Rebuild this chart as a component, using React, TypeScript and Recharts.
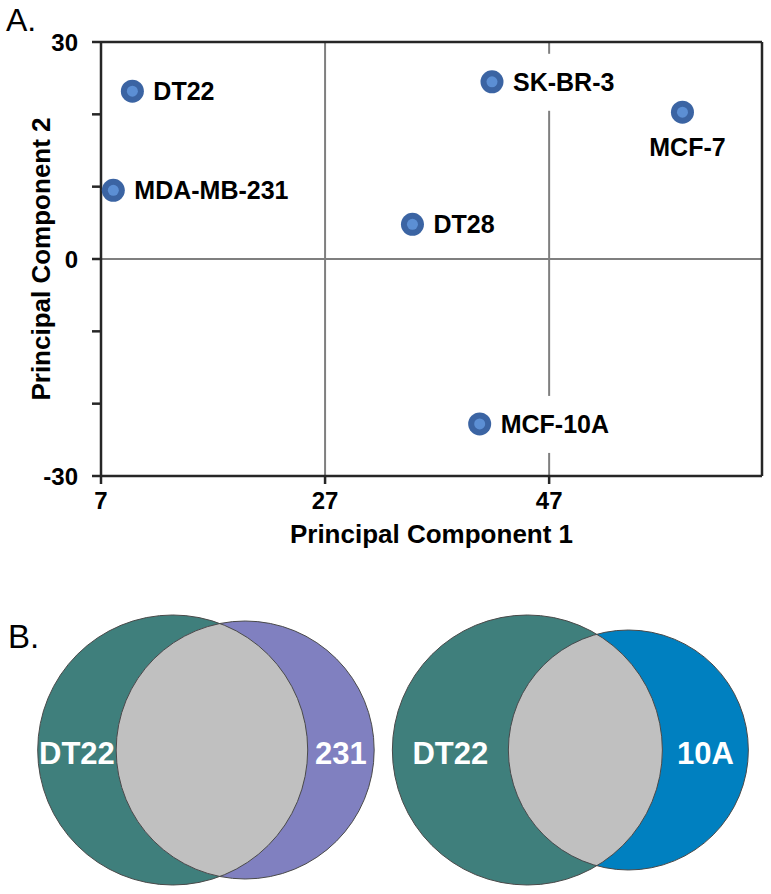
import { ScatterChart, Scatter, XAxis, YAxis, ZAxis, ReferenceLine } from 'recharts';

const FONT = '"Liberation Sans", Arial, Helvetica, sans-serif';

// panel A - principal component scores
const cellLines = ['DT22', 'MDA-MB-231', 'SK-BR-3', 'MCF-7', 'DT28', 'MCF-10A'];
const pc1 = [9.8, 8.1, 41.9, 58.9, 34.8, 40.8];
const pc2 = [23.2, 9.5, 24.5, 20.3, 4.8, -22.8];
const labelSide = ['right', 'right', 'right', 'below', 'right', 'right'];
const pc1Ticks = [7, 27, 47];
const pc2Ticks = [-30, -20, -10, 0, 10, 20, 30];

// panel B - venn diagrams (size = relative set size)
const vennIds = ['v1', 'v1', 'v2', 'v2'];
const vennSets = ['DT22', '231', 'DT22', '10A'];
const vennX = [22.4, 31.8, 68.4, 81.5];
const vennSize = [100, 91.3, 100, 79];
const vennColors = ['#3f7f7c', '#8080c0', '#3f7f7c', '#0080c0'];

const pcaData = cellLines.map((name, i) => ({ name, x: pc1[i], y: pc2[i], side: labelSide[i] }));

const vennData = vennSets.map((name, i) => {
  const first = i % 2 === 0;
  return {
    key: `${vennIds[i]}-${i}`,
    partner: `${vennIds[i]}-${first ? i + 1 : i - 1}`,
    side: first ? 'left' : 'right',
    name,
    x: vennX[i],
    y: 48,
    z: vennSize[i],
    color: vennColors[i],
  };
});

const vennGeom: Record<string, { cx: number; cy: number; r: number }> = {};

function CellPoint(props: any) {
  const { cx, cy, payload } = props;
  const fs = 25;
  const w = payload.name.length * fs * 0.64;
  let tx = cx + 21;
  let ty = cy;
  let anchor = 'start';
  if (payload.side === 'below') {
    tx = cx + 5;
    ty = cy + 35;
    anchor = 'middle';
  }
  const rx = anchor === 'middle' ? tx - w / 2 - 5 : tx - 5;
  return (
    <g>
      <rect x={rx} y={ty - 28} width={w + 10} height={57} fill="#fff" />
      <circle cx={cx} cy={cy} r={11.5} fill="#3b64a3" />
      <circle cx={cx} cy={cy} r={5.5} fill="#5c8fd4" />
      <text
        x={tx}
        y={ty}
        textAnchor={anchor}
        dominantBaseline="central"
        fontSize={fs}
        fontWeight="bold"
        fontFamily={FONT}
        fill="#000"
      >
        {payload.name}
      </text>
    </g>
  );
}

function VennFill(props: any) {
  const { cx, cy, width, payload } = props;
  const r = width / 2;
  vennGeom[payload.key] = { cx, cy, r };
  return (
    <g>
      <defs>
        <clipPath id={`clip-${payload.key}`}>
          <circle cx={cx} cy={cy} r={r} />
        </clipPath>
      </defs>
      <circle cx={cx} cy={cy} r={r} fill={payload.color} />
    </g>
  );
}

function VennOverlap(props: any) {
  const { cx, cy, width, payload } = props;
  return <circle cx={cx} cy={cy} r={width / 2} fill="#c0c0c0" clipPath={`url(#clip-${payload.partner})`} />;
}

function VennOutline(props: any) {
  const { cx, cy, width, payload } = props;
  const r = width / 2;
  const other = vennGeom[payload.partner];
  let lx = payload.side === 'left' ? cx - r * 0.7 : cx + r * 0.7;
  if (other) {
    lx = payload.side === 'left' ? (cx - r + other.cx - other.r) / 2 : (cx + r + other.cx + other.r) / 2;
  }
  return (
    <g>
      <circle cx={cx} cy={cy} r={r} fill="none" stroke="#4a4a4a" strokeWidth={1} />
      <text
        x={lx}
        y={cy + 3}
        textAnchor="middle"
        dominantBaseline="central"
        fontSize={31}
        fontWeight="bold"
        fontFamily={FONT}
        fill="#fff"
      >
        {payload.name}
      </text>
    </g>
  );
}

function YTitle(props: any) {
  const vb = props.viewBox || { x: 0, y: 42, width: 101, height: 434 };
  const x = vb.x + 41;
  const y = vb.y + vb.height / 2;
  return (
    <text
      x={x}
      y={y}
      transform={`rotate(-90 ${x} ${y})`}
      textAnchor="middle"
      dominantBaseline="central"
      fontSize={26}
      fontWeight="bold"
      fontFamily={FONT}
      fill="#000"
    >
      Principal Component 2
    </text>
  );
}

const tickStyle = { fill: '#000', fontSize: 24, fontWeight: 'bold', fontFamily: FONT };
const axisStroke = { stroke: '#262626', strokeWidth: 2.5 };

export default function App() {
  const onlyEnds = (v: number) => (v % 30 === 0 ? String(v) : '');
  const vennRight = vennData.filter((d) => d.side === 'right');

  return (
    <div style={{ position: 'absolute', left: 0, top: 0, width: 771, height: 894, overflow: 'hidden', background: '#fff' }}>
      <div style={{ position: 'absolute', left: 6, top: 0, fontFamily: FONT, fontSize: 32, lineHeight: '40px' }}>A.</div>
      <div style={{ position: 'absolute', left: 8, top: 617, fontFamily: FONT, fontSize: 33, lineHeight: '40px' }}>B.</div>

      <div style={{ position: 'absolute', left: 0, top: 0 }}>
        <ScatterChart width={771} height={560} margin={{ top: 42, right: 9, bottom: 0, left: 0 }}>
          <XAxis
            type="number"
            dataKey="x"
            domain={[7, 66]}
            ticks={pc1Ticks}
            height={84}
            tickSize={8}
            tickMargin={8}
            tick={tickStyle}
            axisLine={axisStroke}
            tickLine={axisStroke}
            label={{
              value: 'Principal Component 1',
              position: 'insideBottom',
              offset: 17,
              fontSize: 26,
              fontWeight: 'bold',
              fontFamily: FONT,
              fill: '#000',
            }}
          />
          <YAxis
            type="number"
            dataKey="y"
            domain={[-30, 30]}
            ticks={pc2Ticks}
            tickFormatter={onlyEnds}
            width={101}
            tickSize={9}
            tickMargin={14}
            tick={tickStyle}
            axisLine={axisStroke}
            tickLine={axisStroke}
            label={{ content: (p: any) => <YTitle {...p} /> }}
          />
          <ReferenceLine x={27} stroke="#7f7f7f" strokeWidth={2} />
          <ReferenceLine x={47} stroke="#7f7f7f" strokeWidth={2} />
          <ReferenceLine y={0} stroke="#7f7f7f" strokeWidth={2} />
          <ReferenceLine y={30} stroke="#262626" strokeWidth={2.5} />
          <ReferenceLine x={66} stroke="#262626" strokeWidth={2.5} />
          <Scatter data={pcaData} shape={CellPoint} isAnimationActive={false} />
        </ScatterChart>
      </div>

      <div style={{ position: 'absolute', left: 0, top: 594 }}>
        <ScatterChart width={771} height={300} margin={{ top: 0, right: 0, bottom: 0, left: 0 }}>
          <XAxis type="number" dataKey="x" domain={[0, 100]} hide />
          <YAxis type="number" dataKey="y" domain={[0, 100]} hide />
          <ZAxis type="number" dataKey="z" domain={[0, 100]} range={[0, 57256]} />
          <Scatter data={vennData} shape={VennFill} isAnimationActive={false} />
          <Scatter data={vennRight} shape={VennOverlap} isAnimationActive={false} />
          <Scatter data={vennData} shape={VennOutline} isAnimationActive={false} />
        </ScatterChart>
      </div>
    </div>
  );
}
